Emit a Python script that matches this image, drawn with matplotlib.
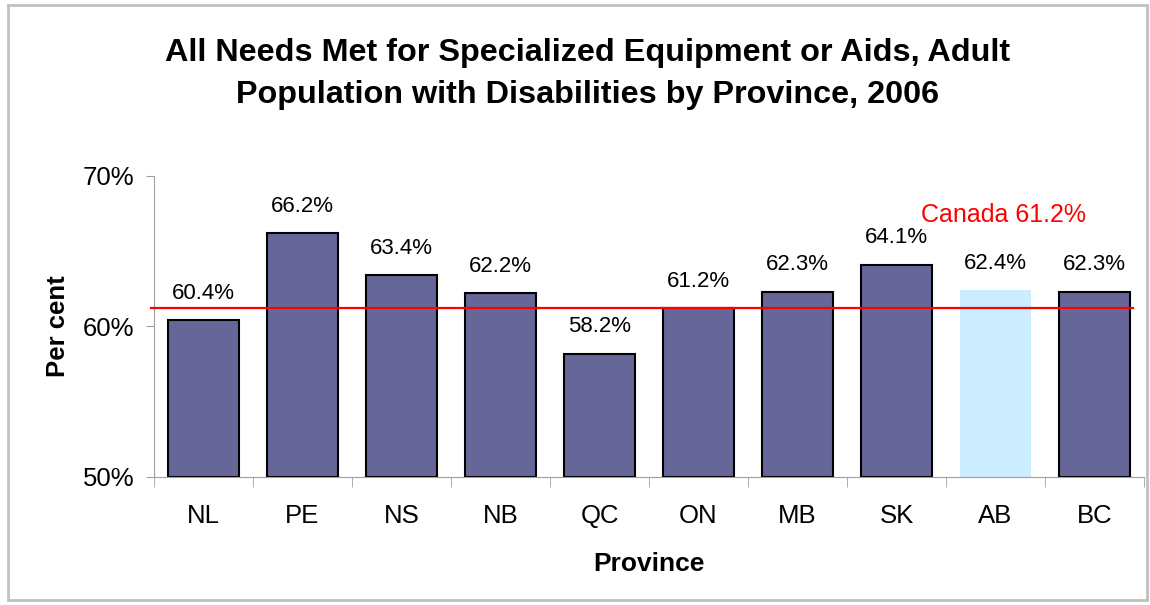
import matplotlib
matplotlib.use("Agg")
import matplotlib.pyplot as plt
import numpy as np

provinces = ["NL", "PE", "NS", "NB", "QC", "ON", "MB", "SK", "AB", "BC"]
values = [60.4, 66.2, 63.4, 62.2, 58.2, 61.2, 62.3, 64.1, 62.4, 62.3]
canada = 61.2
highlight = "AB"

plt.rcParams['font.family'] = ['Liberation Sans', 'DejaVu Sans']

fig = plt.figure(figsize=(11.5, 6.05), dpi=100)
# light gray frame around the figure
fig.patches.append(plt.Rectangle((0.007, 0.008), 0.99, 0.984, transform=fig.transFigure,
                                 fill=False, edgecolor='#c0c0c0', linewidth=2))

ax = fig.add_axes([0.1339, 0.2116, 0.8609, 0.4975])
x = np.arange(len(provinces))
colors = ['#CCECFF' if p == highlight else '#666699' for p in provinces]
edges = ['none' if p == highlight else 'black' for p in provinces]
ax.bar(x, np.array(values) - 50, bottom=50, width=0.72, color=colors,
       edgecolor=edges, linewidth=1.5, zorder=2)

for a, b in zip(x, values):
    ax.annotate('%.1f%%' % b, (a, b), xytext=(0, 12), textcoords='offset points',
                ha='center', va='bottom', fontsize=16, zorder=1)

ax.plot([-0.53, 9.39], [canada, canada], color='red', linewidth=1.6, zorder=3, clip_on=False)
# label box sits over the SK value label, like in the original
ax.text(8.08, 67.4, 'Canada %.1f%%' % canada, color='red', fontsize=18, ha='center', va='center',
        zorder=4, bbox=dict(facecolor='white', edgecolor='none', pad=1))

ax.set_xlim(-0.5, 9.5)
ax.set_ylim(50, 70)
ax.set_yticks([50, 60, 70])
ax.set_yticklabels(['50%', '60%', '70%'], fontsize=18.5)
ax.set_xticks(x)
ax.set_xticklabels(provinces, fontsize=18.5)
ax.set_xticks(np.arange(-0.5, 10, 1), minor=True)
ax.tick_params(axis='x', which='major', length=0, pad=19.5)
ax.tick_params(axis='x', which='minor', length=7, color='#a0a0a0', direction='out')
ax.tick_params(axis='y', length=6, color='#a0a0a0', pad=8)

for s in ['top', 'right']:
    ax.spines[s].set_visible(False)
ax.spines['left'].set_color('#a0a0a0')
ax.spines['bottom'].set_color('#a0a0a0')

ax.set_ylabel('Per cent', fontsize=18.5, fontweight='bold', labelpad=9.5)
ax.set_xlabel('Province', fontsize=19, fontweight='bold', labelpad=17)

fig.text(0.511, 0.878, 'All Needs Met for Specialized Equipment or Aids, Adult\nPopulation with Disabilities by Province, 2006',
         ha='center', va='center', fontsize=23.3, fontweight='bold', linespacing=1.54)

fig.savefig('out.png', dpi=100)
